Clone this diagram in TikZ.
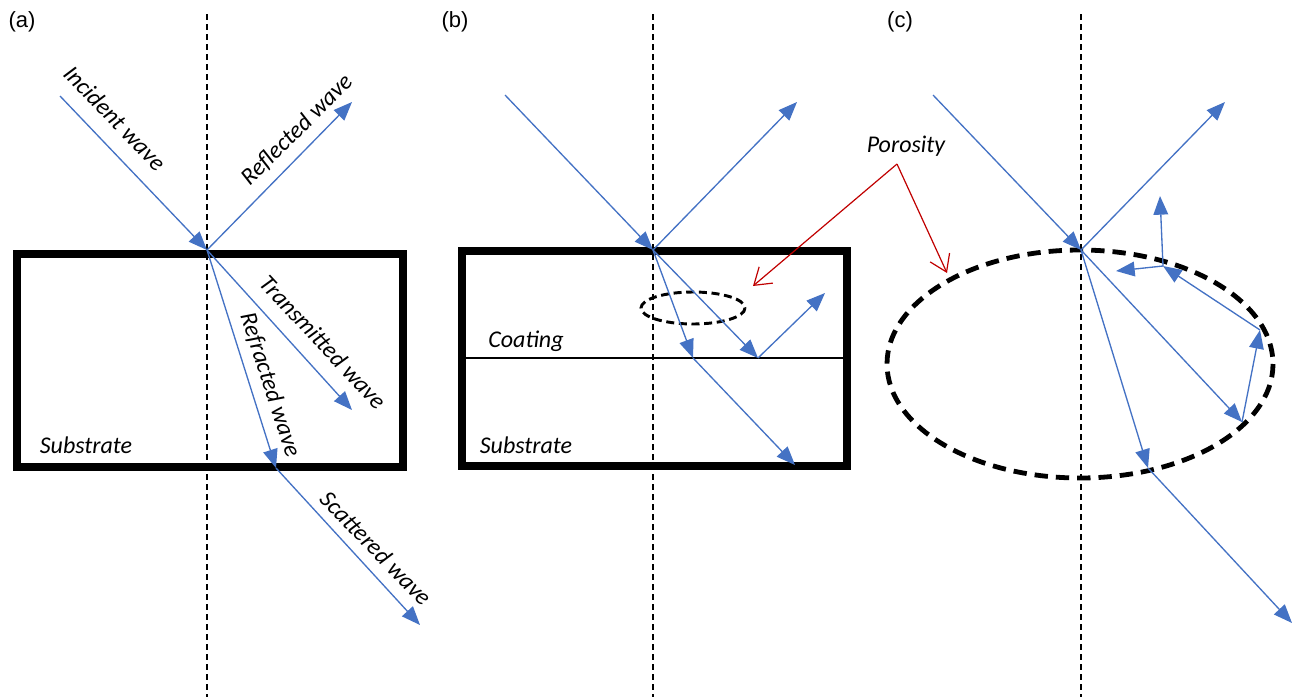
\documentclass[tikz,border=0pt]{standalone}
\usepackage{fontspec}
\setmainfont{Carlito}
\newfontfamily\panelfont{Liberation Sans}
\usetikzlibrary{arrows.meta}
\definecolor{wavebl}{RGB}{68,114,196}
\definecolor{porered}{RGB}{192,0,0}

\begin{document}
\begin{tikzpicture}[x=0.75pt,y=-0.75pt,
  ray/.style={color=wavebl,line width=1pt,-{Triangle[length=14pt,width=11pt]}},
  normline/.style={draw=black,line width=0.9pt,dash pattern=on 4.5pt off 3pt},
  slab/.style={draw=black,line width=6.5pt},
  pore/.style={draw=black,line width=3.6pt,dash pattern=on 10pt off 6pt},
  smallpore/.style={draw=black,line width=2.2pt,dash pattern=on 6pt off 3.5pt},
  pointer/.style={color=porered,line width=0.9pt,-{Straight Barb[length=12pt,width=16pt]}},
  lbl/.style={font=\itshape\fontsize{18}{21}\selectfont,inner sep=0pt},
  tag/.style={font=\panelfont\fontsize{16.5}{19}\selectfont,inner sep=0pt}]
  \useasboundingbox (0,0) rectangle (1295,697);

  \foreach \x in {207,653,1081}
    \draw[normline] (\x,14) -- (\x,697);

  % (a)
  \node[tag] (tag-a) at (22,22) {(a)};
  \draw[slab] (17,254) rectangle (403,467);
  \coordinate (a-in)  at (60,96);
  \coordinate (a-hit) at (207,250);
  \coordinate (a-out) at (352,102);
  \coordinate (a-tr)  at (352,410);
  \coordinate (a-rf)  at (276,468);
  \coordinate (a-sc)  at (420,625);
  \path[ray]
  (a-in) edge (a-hit)
  (a-hit) edge (a-out)
  edge (a-tr)
  edge (a-rf)
  (a-rf) edge (a-sc);
  \node[lbl,rotate=-46] (l-inc) at (115,118) {Incident wave};
  \node[lbl,rotate=45]  (l-ref) at (297,130) {Reflected wave};
  \node[lbl,rotate=-47] (l-tra) at (323,342) {Transmitted wave};
  \node[lbl,rotate=-72] (l-rfr) at (270,385) {Refracted wave};
  \node[lbl,rotate=-46] (l-sca) at (376,548) {Scattered wave};
  \node[lbl] (l-sub-a) at (86,445) {Substrate};

  % (b)
  \node[tag] (tag-b) at (455,22) {(b)};
  \draw[slab] (462,251) rectangle (847,466);
  \draw[line width=2.2pt] (462,358) -- (847,358);
  \draw[smallpore] (693,308) ellipse [x radius=52, y radius=16];
  \coordinate (b-in)  at (505,95);
  \coordinate (b-hit) at (653,250);
  \coordinate (b-out) at (797,102);
  \coordinate (b-rf)  at (693,358);
  \coordinate (b-sc)  at (795,465);
  \coordinate (b-tr)  at (758,358);
  \coordinate (b-up)  at (825,293);
  \path[ray]
  (b-in) edge (b-hit)
  (b-hit) edge (b-out)
  edge (b-rf)
  edge (b-tr)
  (b-rf) edge (b-sc)
  (b-tr) edge (b-up);
  \node[lbl] (l-coat) at (526,341) {Coating};
  \node[lbl] (l-sub-b) at (526,445) {Substrate};

  % (c)
  \node[tag] (tag-c) at (900,22) {(c)};
  \draw[pore] (1080,364) ellipse [x radius=193, y radius=114];
  \coordinate (c-in)  at (933,95);
  \coordinate (c-hit) at (1081,250);
  \coordinate (c-out) at (1225,102);
  \coordinate (c-rf)  at (1148,468);
  \coordinate (c-sc)  at (1292,623);
  \coordinate (c-b1)  at (1242,422);
  \coordinate (c-b2)  at (1260,330);
  \coordinate (c-b3)  at (1163,266);
  \coordinate (c-b4)  at (1160,196);
  \coordinate (c-b5)  at (1116,271);
  \path[ray]
  (c-in) edge (c-hit)
  (c-hit) edge (c-out)
  edge (c-rf)
  edge (c-b1)
  (c-rf) edge (c-sc)
  (c-b1) edge (c-b2)
  (c-b2) edge (c-b3)
  (c-b3) edge (c-b4)
  edge (c-b5);

  % porosity
  \node[lbl] (l-por) at (906,146) {Porosity};
  \coordinate (p-top) at (897,164);
  \coordinate (p-b) at (753,286);
  \coordinate (p-c) at (947,273);
  \path[pointer]
  (p-top) edge (p-b)
  edge (p-c);
\end{tikzpicture}
\end{document}
